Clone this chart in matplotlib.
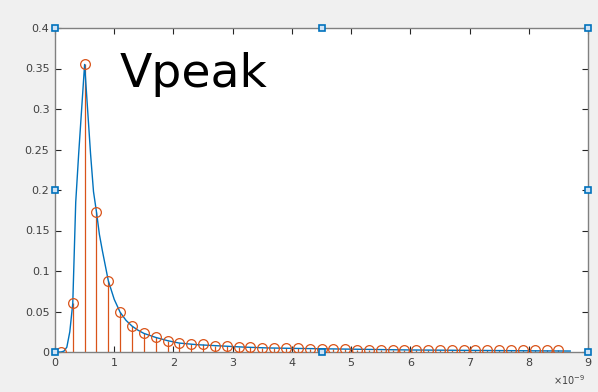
import matplotlib
matplotlib.use("Agg")
import matplotlib.pyplot as plt

# continuous curve (x in ns)
curve_x = [0, 0.1, 0.15, 0.2, 0.25, 0.3, 0.35, 0.4, 0.45, 0.5, 0.55, 0.6, 0.65, 0.7, 0.75,
           0.8, 0.9, 1.0, 1.1, 1.2, 1.3, 1.4, 1.5, 1.7, 1.9, 2.1, 2.4, 2.8, 3.2, 3.6, 4.0,
           4.5, 5.0, 6.0, 7.0, 8.0, 8.7]
curve_y = [0, 0, 0.001, 0.006, 0.025, 0.06, 0.185, 0.245, 0.30, 0.355, 0.30, 0.245, 0.198,
           0.173, 0.145, 0.125, 0.088, 0.065, 0.049, 0.039, 0.032, 0.027, 0.023, 0.018,
           0.014, 0.011, 0.009, 0.0075, 0.006, 0.005, 0.0045, 0.004, 0.0035, 0.0025,
           0.002, 0.0015, 0.0012]

# sampled stems (x in ns)
stem_x = [0.1, 0.3, 0.5, 0.7, 0.9, 1.1, 1.3, 1.5, 1.7, 1.9, 2.1, 2.3, 2.5, 2.7, 2.9,
          3.1, 3.3, 3.5, 3.7, 3.9, 4.1, 4.3, 4.5, 4.7, 4.9, 5.1, 5.3, 5.5, 5.7, 5.9,
          6.1, 6.3, 6.5, 6.7, 6.9, 7.1, 7.3, 7.5, 7.7, 7.9, 8.1, 8.3, 8.5]
stem_y = [0.0005, 0.06, 0.356, 0.173, 0.088, 0.049, 0.032, 0.023, 0.018, 0.014, 0.011,
          0.010, 0.0095, 0.008, 0.007, 0.0062, 0.0062, 0.005, 0.005, 0.005, 0.0055,
          0.0035, 0.0035, 0.0035, 0.0035, 0.003, 0.003, 0.003, 0.0022, 0.0022, 0.002,
          0.002, 0.002, 0.002, 0.002, 0.002, 0.002, 0.002, 0.002, 0.002, 0.002, 0.002,
          0.002]

xticks = [0, 1, 2, 3, 4, 5, 6, 7, 8, 9]
yticks = [0, 0.05, 0.1, 0.15, 0.2, 0.25, 0.3, 0.35, 0.4]
ytick_labels = ["0", "0.05", "0.1", "0.15", "0.2", "0.25", "0.3", "0.35", "0.4"]

handle_x = [0, 4.5, 9, 0, 9, 0, 4.5, 9]
handle_y = [0, 0, 0, 0.2, 0.2, 0.4, 0.4, 0.4]

fig = plt.figure(figsize=(5.98, 3.92), dpi=100, facecolor="#f0f0f0")
ax = fig.add_axes([55 / 598, 40 / 392, 533 / 598, 324 / 392])
ax.set_facecolor("white")

ax.plot(curve_x, curve_y, color="#0072BD", lw=1.0, zorder=3)
ax.vlines(stem_x, 0, stem_y, color="#D95319", lw=0.9, zorder=2)
ax.plot(stem_x, stem_y, "o", mfc="none", mec="#D95319", ms=7, mew=0.9, zorder=4)

ax.set_xlim(0, 9)
ax.set_ylim(0, 0.4)
ax.set_xticks(xticks)
ax.set_xticklabels([str(t) for t in xticks])
ax.set_yticks(yticks)
ax.set_yticklabels(ytick_labels)
ax.tick_params(direction="in", length=4, width=0.8, colors="#262626", labelsize=8,
               top=True, right=True, labelcolor="#404040", pad=4)
for s in ax.spines.values():
    s.set_color("#808080")
    s.set_linewidth(1.0)

ax.plot(handle_x, handle_y, "s", ms=5, mfc="#cfe3f5", mec="#0072BD", mew=1.2,
        clip_on=False, zorder=10)

ax.text(0.122, 0.925, "Vpeak", transform=ax.transAxes, fontsize=34, color="black",
        ha="left", va="top")
fig.text(585 / 598, 5 / 392, "×10$^{-9}$", ha="right", va="bottom", fontsize=7,
         color="#404040")

fig.savefig("out.png", dpi=100, facecolor=fig.get_facecolor())
